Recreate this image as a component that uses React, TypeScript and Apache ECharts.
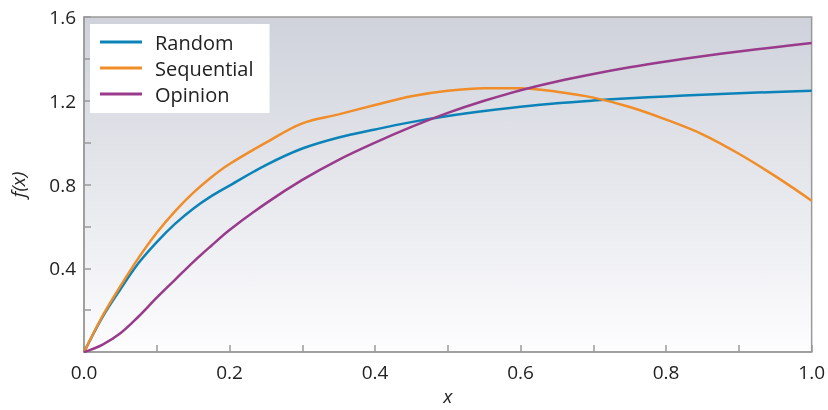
import React, { useEffect, useRef } from "react";
import * as echarts from "echarts";

const xs = [0, 0.025, 0.05, 0.075, 0.1, 0.125, 0.15, 0.175, 0.2, 0.25, 0.3, 0.35, 0.4, 0.45, 0.5, 0.55, 0.6, 0.65, 0.7, 0.75, 0.8, 0.85, 0.9, 0.95, 1.0];
const randomVals = [0, 0.165, 0.3, 0.425, 0.525, 0.612, 0.685, 0.745, 0.795, 0.893, 0.972, 1.025, 1.063, 1.098, 1.127, 1.151, 1.171, 1.188, 1.201, 1.212, 1.221, 1.229, 1.236, 1.242, 1.248];
const sequentialVals = [0, 0.17, 0.315, 0.45, 0.57, 0.672, 0.76, 0.835, 0.898, 1.0, 1.092, 1.135, 1.18, 1.222, 1.248, 1.26, 1.26, 1.243, 1.215, 1.17, 1.11, 1.04, 0.947, 0.84, 0.723];
const opinionVals = [0, 0.035, 0.09, 0.17, 0.26, 0.345, 0.43, 0.508, 0.583, 0.71, 0.822, 0.918, 1.0, 1.075, 1.142, 1.2, 1.25, 1.292, 1.328, 1.36, 1.388, 1.413, 1.435, 1.456, 1.476];
const seriesNames = ["Random", "Sequential", "Opinion"];
const seriesColors = ["#0b83b8", "#f08d28", "#993a8b"];

const FONT = "Open Sans";

export default function App() {
  const ref = useRef<HTMLDivElement>(null);
  useEffect(() => {
    if (!ref.current) return;
    const chart = echarts.init(ref.current, undefined, { renderer: "svg" });
    const all = [randomVals, sequentialVals, opinionVals];
    chart.setOption({
      animation: false,
      textStyle: { fontFamily: FONT },
      grid: {
        left: 84,
        right: 15,
        top: 17,
        bottom: 48,
        show: true,
        borderColor: "#9a9a9a",
        borderWidth: 1.5,
        backgroundColor: new echarts.graphic.LinearGradient(0, 0, 0, 1, [
          { offset: 0, color: "#cfd2db" },
          { offset: 1, color: "#fdfdfe" },
        ]),
      },
      legend: {
        orient: "vertical",
        left: 90,
        top: 24,
        backgroundColor: "#ffffff",
        padding: [7, 16, 8, 10],
        itemWidth: 42,
        itemHeight: 3,
        itemGap: 4,
        icon: "rect",
        textStyle: { fontSize: 20, lineHeight: 22, color: "#222", fontFamily: FONT, padding: [0, 0, 0, 8] },
        data: seriesNames,
      },
      xAxis: {
        type: "value",
        min: 0,
        max: 1,
        interval: 0.1,
        name: "x",
        nameLocation: "middle",
        nameGap: 26,
        nameTextStyle: { fontSize: 19, fontStyle: "italic", color: "#222", fontFamily: FONT },
        axisLine: { lineStyle: { color: "#9a9a9a", width: 1.5 } },
        axisTick: { inside: true, length: 7, lineStyle: { color: "#9a9a9a", width: 1.5 } },
        splitLine: { show: false },
        axisLabel: {
          fontSize: 19,
          color: "#222",
          margin: 10,
          fontFamily: FONT,
          formatter: (v: number) => (Math.round(v * 10) % 2 === 0 ? v.toFixed(1) : ""),
        },
      },
      yAxis: {
        type: "value",
        min: 0,
        max: 1.6,
        interval: 0.2,
        name: "f(x)",
        nameLocation: "middle",
        nameGap: 57,
        nameTextStyle: { fontSize: 19, fontStyle: "italic", color: "#222", fontFamily: FONT },
        axisLine: { show: true, lineStyle: { color: "#9a9a9a", width: 1.5 } },
        axisTick: { show: true, inside: true, length: 7, lineStyle: { color: "#9a9a9a", width: 1.5 } },
        splitLine: { show: false },
        axisLabel: {
          fontSize: 19,
          color: "#222",
          margin: 8,
          fontFamily: FONT,
          formatter: (v: number) => {
            const k = Math.round(v * 10);
            return k > 0 && k % 4 === 0 ? v.toFixed(1) : "";
          },
        },
      },
      series: seriesNames.map((name, i) => ({
        name,
        type: "line",
        smooth: 0.35,
        symbol: "none",
        lineStyle: { width: 2.5, color: seriesColors[i] },
        itemStyle: { color: seriesColors[i] },
        data: xs.map((x, j) => [x, all[i][j]]),
        z: 2 + i,
      })),
    });
    return () => chart.dispose();
  }, []);
  return (
    <div
      ref={ref}
      style={{ position: "fixed", left: 0, top: 0, width: 828, height: 410 }}
    />
  );
}
